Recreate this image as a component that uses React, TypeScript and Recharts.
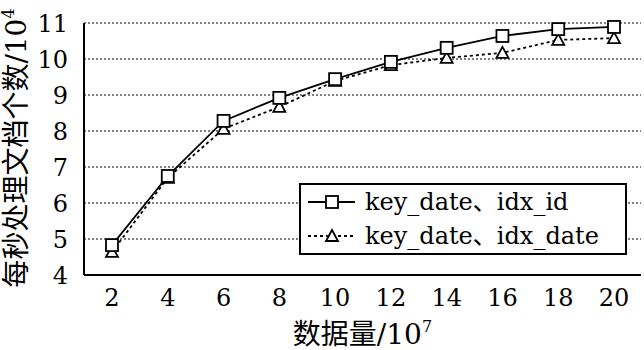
import { LineChart, Line, XAxis, YAxis, CartesianGrid, Legend } from "recharts";

// 数据量 (10^7)
const sizes = [2, 4, 6, 8, 10, 12, 14, 16, 18, 20];
// 每秒处理文档个数 (10^4)
const idxIdValues = [4.83, 6.75, 8.28, 8.92, 9.44, 9.92, 10.31, 10.64, 10.83, 10.89];
const idxDateValues = [4.64, 6.7, 8.06, 8.67, 9.39, 9.83, 10.03, 10.17, 10.53, 10.58];
const yTicks = [4, 5, 6, 7, 8, 9, 10, 11];
const seriesNames = ["key_date、idx_id", "key_date、idx_date"];

const data = sizes.map((s, i) => ({
  size: s,
  idxId: idxIdValues[i],
  idxDate: idxDateValues[i],
}));

const FONT = "'DejaVu Serif', 'Liberation Serif', 'Noto Sans CJK SC', serif";
const tickStyle = { fontFamily: FONT, fontSize: 24, fill: "#000" };

const SquareDot = (props: any) => {
  const { cx, cy } = props;
  if (cx == null || cy == null) return null;
  return (
    <rect x={cx - 6} y={cy - 6} width={12} height={12} fill="#fff" stroke="#000" strokeWidth={1.8} />
  );
};

const TriangleDot = (props: any) => {
  const { cx, cy } = props;
  if (cx == null || cy == null) return null;
  return (
    <path
      d={`M${cx},${cy - 6} L${cx + 6},${cy + 5} L${cx - 6},${cy + 5} Z`}
      fill="#fff"
      stroke="#000"
      strokeWidth={1.8}
    />
  );
};

const renderLegend = () => (
  <div
    style={{
      border: "2px solid #000",
      background: "#fff",
      width: 324,
      height: 68,
      fontFamily: FONT,
      fontSize: 24,
      lineHeight: "34px",
      color: "#000",
      boxSizing: "content-box",
    }}
  >
    {seriesNames.map((name, i) => (
      <div key={name} style={{ display: "flex", alignItems: "center", height: 34 }}>
        <svg width={64} height={20} style={{ flex: "none" }}>
          <line
            x1={7}
            y1={10}
            x2={54}
            y2={10}
            stroke="#000"
            strokeWidth={1.8}
            strokeDasharray={i === 1 ? "3 3" : undefined}
          />
          {i === 0 ? (
            <rect x={25} y={4} width={12} height={12} fill="#fff" stroke="#000" strokeWidth={1.8} />
          ) : (
            <path d="M31,4 L37,15 L25,15 Z" fill="#fff" stroke="#000" strokeWidth={1.8} />
          )}
        </svg>
        <span>{name}</span>
      </div>
    ))}
  </div>
);

const XLabel = (props: any) => {
  const vb = props.viewBox || {};
  const cx = vb.x + vb.width / 2;
  return (
    <text x={cx} y={344} textAnchor="middle" fontFamily={FONT} fontSize={28} fill="#000">
      数据量/10
      <tspan fontSize={16} dy={-12}>7</tspan>
    </text>
  );
};

const YLabel = () => (
  <text
    x={0}
    y={0}
    transform="translate(26,148) rotate(-90)"
    textAnchor="middle"
    fontFamily={FONT}
    fontSize={28}
    fill="#000"
  >
    每秒处理文档个数/10
    <tspan fontSize={16} dy={-12}>4</tspan>
  </text>
);

export default function App() {
  return (
    <div style={{ position: "absolute", left: 0, top: 0, background: "#fff" }}>
      <LineChart
        width={644}
        height={350}
        data={data}
        margin={{ top: 23, right: 3, left: 0, bottom: 0 }}
      >
        <CartesianGrid
          vertical={false}
          stroke="#000"
          strokeDasharray="2 2"
          strokeWidth={1}
        />
        <XAxis
          dataKey="size"
          type="number"
          domain={[2, 20]}
          ticks={sizes}
          interval={0}
          padding={{ left: 28, right: 27 }}
          height={75}
          tickSize={0}
          tickMargin={14}
          tick={tickStyle}
          axisLine={{ stroke: "#000", strokeWidth: 2 }}
          label={<XLabel />}
        />
        <XAxis
          xAxisId="top"
          orientation="top"
          dataKey="size"
          type="number"
          domain={[2, 20]}
          height={0}
          tick={false}
          tickLine={false}
          axisLine={{ stroke: "#000", strokeWidth: 1.5 }}
        />
        <YAxis
          domain={[4, 11]}
          ticks={yTicks}
          interval={0}
          width={84}
          tickSize={0}
          tickMargin={16}
          tick={tickStyle}
          axisLine={{ stroke: "#000", strokeWidth: 2 }}
          label={<YLabel />}
        />
        <YAxis
          yAxisId="right"
          orientation="right"
          domain={[4, 11]}
          width={0}
          tick={false}
          tickLine={false}
          axisLine={{ stroke: "#000", strokeWidth: 2 }}
        />
        <Legend
          content={renderLegend}
          layout="vertical"
          align="center"
          verticalAlign="middle"
          wrapperStyle={{ position: "absolute", left: 299, top: 183, width: "auto" }}
        />
        <Line
          type="linear"
          dataKey="idxDate"
          name={seriesNames[1]}
          stroke="#000"
          strokeWidth={1.8}
          strokeDasharray="3 3"
          dot={<TriangleDot />}
          activeDot={false}
          isAnimationActive={false}
        />
        <Line
          type="linear"
          dataKey="idxId"
          name={seriesNames[0]}
          stroke="#000"
          strokeWidth={1.8}
          dot={<SquareDot />}
          activeDot={false}
          isAnimationActive={false}
        />
      </LineChart>
    </div>
  );
}
